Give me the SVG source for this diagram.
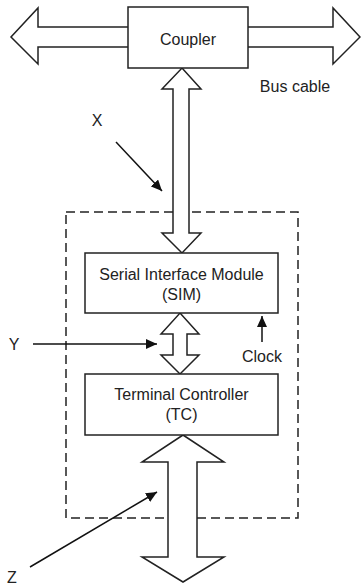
<svg xmlns="http://www.w3.org/2000/svg" width="361" height="585" viewBox="0 0 361 585">
<style>
text{font-family:"Liberation Sans",Arial,sans-serif;font-size:16px;fill:#222;text-anchor:middle}
.box{fill:#fff;stroke:#222;stroke-width:1.5}
.big{fill:#fff;stroke:#222;stroke-width:1.5;stroke-linejoin:miter}
.ptr{stroke:#111;stroke-width:1.5;fill:none;marker-end:url(#ah)}
.dash{fill:none;stroke:#222;stroke-width:1.5;stroke-dasharray:9 5}
</style>
<defs>
<marker id="ah" markerUnits="userSpaceOnUse" markerWidth="12" markerHeight="10" refX="11" refY="5" orient="auto">
<path d="M0,0 L11,5 L0,10 Z" fill="#111"/>
</marker>
</defs>
<rect class="dash" x="66" y="212" width="232" height="306"/>
<g id="connectors">
<path class="big" d="M128,27 H38 V8 L11,37 L38,64 V47 H128"/>
<path class="big" d="M248,27 H333 V8 L360,37 L333,64 V47 H248"/>
<path class="big" d="M182,68 L201,89 H189 V233 H201 L182,253 L162,233 H173 V89 H162 Z"/>
<path class="big" d="M180,313 L199,334 H187 V355 H199 L180,374 L161,355 H173 V334 H161 Z"/>
<path class="big" d="M183,435 L224,462 H197 V557 H224 L183,582 L142,557 H168 V462 H142 Z"/>
<line class="ptr" x1="116" y1="142" x2="162" y2="191"/>
<line class="ptr" x1="33" y1="344" x2="157" y2="344"/>
<line class="ptr" x1="262" y1="342" x2="262" y2="316"/>
<line class="ptr" x1="30" y1="567" x2="157" y2="492"/>
</g>
<g id="coupler">
<rect class="box" x="128" y="7" width="120" height="61"/>
<text x="188" y="45">Coupler</text>
</g>
<g id="sim">
<rect class="box" x="85" y="253" width="193" height="60"/>
<text x="181.5" y="280">Serial Interface Module</text>
<text x="181.5" y="300">(SIM)</text>
</g>
<g id="tc">
<rect class="box" x="85" y="374" width="193" height="61"/>
<text x="181.5" y="400">Terminal Controller</text>
<text x="181.5" y="420">(TC)</text>
</g>
<g id="labels">
<text x="295" y="92">Bus cable</text>
<text x="97" y="126">X</text>
<text x="14" y="350">Y</text>
<text x="262" y="362">Clock</text>
<text x="12" y="583">Z</text>
</g>
</svg>
